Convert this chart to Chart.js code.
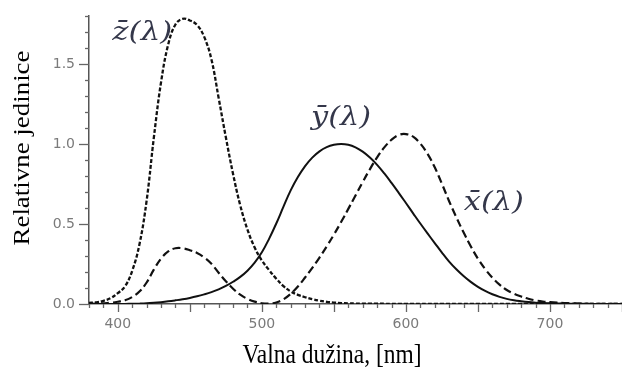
<!DOCTYPE html>
<html>
<head>
<meta charset="utf-8">
<script src="https://cdn.jsdelivr.net/npm/chart.js@4"></script>
<style>
  html, body { margin: 0; padding: 0; background: #fff; }
  #wrap { width: 622px; height: 369px; position: relative; }
</style>
</head>
<body>
<div id="wrap"><canvas id="cmf"></canvas></div>
<script>
// Talasne dužine [nm] i CIE 1931 funkcije usklađivanja boja (očitane sa slike)
const wavelengths = [380,385,390,395,400,405,410,415,420,425,430,435,440,445,450,455,460,465,470,475,480,485,490,495,500,505,510,515,520,525,530,535,540,545,550,555,560,565,570,575,580,585,590,595,600,605,610,615,620,625,630,635,640,645,650,655,660,665,670,675,680,685,690,695,700,705,710,715,720,725,730,735,740,745,750];

const xBar = [0.0014,0.0022,0.0042,0.0077,0.0143,0.0232,0.0435,0.0776,0.1344,0.2148,0.2839,0.3285,0.3483,0.3481,0.3362,0.3187,0.2908,0.2511,0.1954,0.1421,0.0956,0.0580,0.0320,0.0147,0.0049,0.0024,0.0093,0.0291,0.0633,0.1096,0.1655,0.2257,0.2904,0.3597,0.4334,0.5121,0.5945,0.6784,0.7621,0.8425,0.9163,0.9786,1.0263,1.0567,1.0622,1.0456,1.0026,0.9384,0.8544,0.7514,0.6424,0.5419,0.4479,0.3608,0.2835,0.2187,0.1649,0.1212,0.0874,0.0636,0.0468,0.0329,0.0227,0.0158,0.0114,0.0081,0.0058,0.0041,0.0029,0.0020,0.0014,0.0010,0.0007,0.0005,0.0003];

const yBar = [0.0000,0.0001,0.0001,0.0002,0.0004,0.0006,0.0012,0.0022,0.0040,0.0073,0.0116,0.0168,0.0230,0.0298,0.0380,0.0480,0.0600,0.0739,0.0910,0.1126,0.1390,0.1693,0.2080,0.2586,0.3230,0.4073,0.5030,0.6082,0.7100,0.7932,0.8620,0.9149,0.9540,0.9803,0.9950,1.0000,0.9950,0.9786,0.9520,0.9154,0.8700,0.8163,0.7570,0.6949,0.6310,0.5668,0.5030,0.4412,0.3810,0.3210,0.2650,0.2170,0.1750,0.1382,0.1070,0.0816,0.0610,0.0446,0.0320,0.0232,0.0170,0.0119,0.0082,0.0057,0.0041,0.0029,0.0021,0.0015,0.0010,0.0007,0.0005,0.0004,0.0002,0.0002,0.0001];

const zBar = [0.0065,0.0106,0.0201,0.0362,0.0679,0.1102,0.2074,0.3713,0.6456,1.0391,1.3856,1.6230,1.7471,1.7826,1.7721,1.7441,1.6692,1.5281,1.2876,1.0419,0.8130,0.6162,0.4652,0.3533,0.2720,0.2123,0.1582,0.1117,0.0783,0.0573,0.0422,0.0298,0.0203,0.0134,0.0088,0.0058,0.0039,0.0028,0.0021,0.0018,0.0017,0.0014,0.0011,0.0010,0.0008,0.0006,0.0003,0.0002,0.0002,0.0001,0.0001,0.0000,0.0000,0.0000,0,0,0,0,0,0,0,0,0,0,0,0,0,0,0,0,0,0,0,0,0];

// Oznake krivih: tekst i položaj u koordinatama podataka
const curveLabels = [
  { text: 'z\u0304(\u03BB)', x: 417, y: 1.69 },
  { text: 'y\u0304(\u03BB)', x: 555, y: 1.16 },
  { text: 'x\u0304(\u03BB)', x: 661, y: 0.63 }
];

const toPoints = arr => arr.map((v, i) => ({ x: wavelengths[i], y: v }));

// Crtanje podeoka, naslova osa i oznaka krivih
const decorPlugin = {
  id: 'decor',
  afterDraw(chart) {
    const ctx = chart.ctx;
    const xs = chart.scales.x;
    const ys = chart.scales.y;
    const axisY = ys.getPixelForValue(0);
    const axisX = xs.getPixelForValue(380);

    ctx.save();
    ctx.strokeStyle = '#666';
    ctx.lineWidth = 1.3;
    // podeoci na x osi
    for (let v = 380; v <= 750; v += 10) {
      const px = Math.round(xs.getPixelForValue(v)) + 0.5;
      const len = v % 50 === 0 ? 8 : 4;
      ctx.beginPath();
      ctx.moveTo(px, axisY);
      ctx.lineTo(px, axisY + len);
      ctx.stroke();
    }
    // podeoci na y osi
    for (let k = 0; k <= 18; k++) {
      const py = Math.round(ys.getPixelForValue(k / 10)) + 0.5;
      const len = k % 5 === 0 ? 10 : 4;
      ctx.beginPath();
      ctx.moveTo(axisX - len, py);
      ctx.lineTo(axisX, py);
      ctx.stroke();
    }
    ctx.restore();

    // naslov y ose
    ctx.save();
    ctx.fillStyle = '#000';
    ctx.font = '23px "Liberation Serif", "Times New Roman", serif';
    ctx.textAlign = 'center';
    ctx.textBaseline = 'middle';
    ctx.translate(23, 148);
    ctx.rotate(-Math.PI / 2);
    ctx.scale(1.17, 1);
    ctx.fillText('Relativne jedinice', 0, 0);
    ctx.restore();

    // naslov x ose
    ctx.save();
    ctx.fillStyle = '#000';
    ctx.font = '23px "Liberation Serif", "Times New Roman", serif';
    ctx.textAlign = 'center';
    ctx.textBaseline = 'middle';
    ctx.translate(332, 356);
    ctx.scale(1.02, 1.15);
    ctx.fillText('Valna dužina, [nm]', 0, 0);
    ctx.restore();

    // oznake krivih
    curveLabels.forEach(l => {
      ctx.save();
      ctx.fillStyle = '#34374a';
      ctx.font = 'italic 24px "DejaVu Serif", serif';
      ctx.textAlign = 'center';
      ctx.textBaseline = 'middle';
      const w = ctx.measureText(l.text).width;
      ctx.translate(xs.getPixelForValue(l.x), ys.getPixelForValue(l.y));
      ctx.scale(60 / w, 1.1);
      ctx.fillText(l.text, 0, 0);
      ctx.restore();
    });
  }
};

new Chart(document.getElementById('cmf'), {
  type: 'line',
  data: {
    datasets: [
      {
        label: 'x',
        data: toPoints(xBar),
        borderColor: '#111',
        borderWidth: 2.2,
        borderDash: [8, 4],
        pointRadius: 0,
        tension: 0.4,
        fill: false
      },
      {
        label: 'y',
        data: toPoints(yBar),
        borderColor: '#111',
        borderWidth: 2,
        pointRadius: 0,
        tension: 0.4,
        fill: false
      },
      {
        label: 'z',
        data: toPoints(zBar),
        borderColor: '#111',
        borderWidth: 2.3,
        borderDash: [4, 2],
        pointRadius: 0,
        tension: 0.4,
        fill: false
      }
    ]
  },
  options: {
    responsive: true,
    maintainAspectRatio: false,
    animation: false,
    layout: { padding: { top: 16, right: 0, left: 0, bottom: 0 } },
    plugins: {
      legend: { display: false },
      tooltip: { enabled: false }
    },
    scales: {
      x: {
        type: 'linear',
        min: 380,
        max: 750,
        afterFit(scale) {
          scale.height = 65;
          scale.paddingLeft = 0;
          scale.paddingRight = 0;
        },
        grid: { display: false, drawTicks: false },
        border: { display: true, color: '#555', width: 1.5 },
        ticks: {
          stepSize: 10,
          autoSkip: false,
          maxRotation: 0,
          padding: 12,
          color: '#7a7a7a',
          font: { family: 'DejaVu Sans', size: 14 },
          callback: v => (v % 100 === 0 ? String(v) : null)
        }
      },
      y: {
        min: 0,
        max: 1.8,
        afterFit(scale) {
          scale.width = 89;
          scale.paddingTop = 0;
          scale.paddingBottom = 0;
        },
        grid: { display: false, drawTicks: false },
        border: { display: true, color: '#555', width: 1.5 },
        ticks: {
          stepSize: 0.1,
          autoSkip: false,
          padding: 14,
          color: '#7a7a7a',
          font: { family: 'DejaVu Sans', size: 14 },
          callback: v => (Math.abs(v * 2 - Math.round(v * 2)) < 1e-6 ? v.toFixed(1) : null)
        }
      }
    }
  },
  plugins: [decorPlugin]
});
</script>
</body>
</html>
